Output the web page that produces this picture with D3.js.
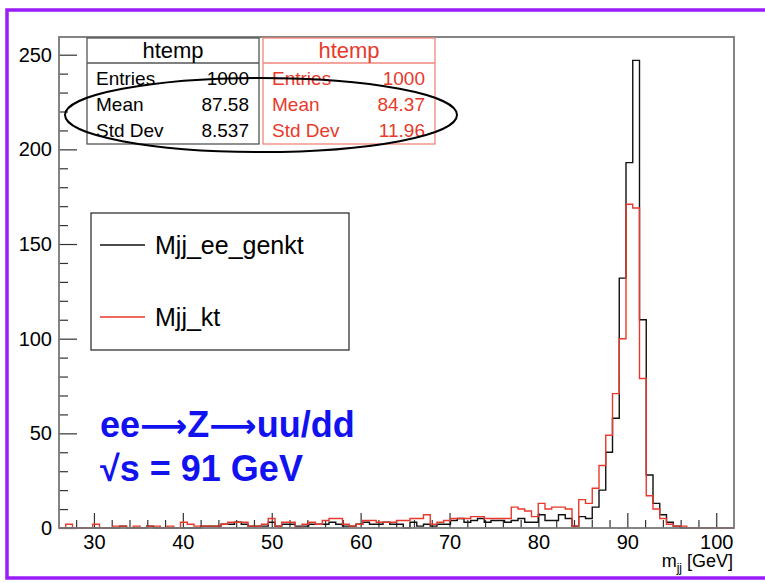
<!DOCTYPE html>
<html>
<head>
<meta charset="utf-8">
<script src="https://cdn.jsdelivr.net/npm/d3@7"></script>
<style>
  body { margin: 0; background: #fff; }
  text { font-family: "Liberation Sans", Arial, Helvetica, sans-serif; }
</style>
</head>
<body>
<div id="chart"></div>
<script>
// Histogram binning (100 bins)
const xMin = 26.07;
const xMax = 102.0;

// Bin contents, Mjj_ee_genkt (black)
const genktCounts = [
  0, 0, 0, 0, 0, 0, 0, 0, 0, 1,
  0, 0, 0, 1, 0, 0, 0, 0, 0, 0,
  0, 1, 1, 1, 2, 2, 3, 2, 1, 1,
  1, 3, 1, 2, 2, 1, 1, 2, 2, 2,
  3, 2, 1, 1, 2, 3, 2, 2, 3, 2,
  2, 0, 3, 1, 2, 1, 2, 2, 4, 5,
  3, 4, 5, 3, 4, 4, 3, 4, 5, 3,
  3, 7, 4, 4, 7, 5, 1, 6, 5, 11,
  20, 40, 58, 132, 193, 247, 110, 28, 13, 7,
  3, 1, 0, 0, 0, 0, 0, 0, 0, 0
];

// Bin contents, Mjj_kt (red)
const ktCounts = [
  0, 2, 0, 0, 0, 2, 0, 0, 1, 1,
  0, 1, 0, 1, 1, 0, 1, 0, 3, 2,
  1, 1, 1, 1, 2, 3, 3, 3, 1, 1,
  2, 5, 1, 3, 3, 0, 2, 3, 2, 4,
  5, 5, 2, 1, 2, 4, 4, 3, 3, 3,
  4, 4, 5, 5, 7, 2, 3, 4, 5, 5,
  5, 6, 6, 5, 5, 5, 5, 11, 10, 9,
  6, 13, 10, 11, 11, 10, 1, 15, 13, 21,
  33, 49, 71, 100, 171, 169, 79, 17, 10, 5,
  2, 1, 1, 0, 0, 0, 0, 0, 0, 0
];

const xMajorTicks = [30, 40, 50, 60, 70, 80, 90, 100];
const yMajorTicks = [0, 50, 100, 150, 200, 250];

const statLabels = ["Entries", "Mean", "Std Dev"];
const genktStats = ["1000", "87.58", "8.537"];
const ktStats = ["1000", "84.37", "11.96"];

const legendNames = ["Mjj_ee_genkt", "Mjj_kt"];

const black = "#111";
const red = "#e8392c";

const width = 765, height = 583;
const frame = { left: 59, right: 734, top: 37, bottom: 528 };

const svg = d3.select("#chart")
  .append("svg")
    .attr("width", width)
    .attr("height", height);

// Purple slide border
svg.append("rect")
  .attr("x", 7).attr("y", 10)
  .attr("width", 780).attr("height", 568)
  .attr("fill", "none")
  .attr("stroke", "#9a1cf8")
  .attr("stroke-width", 3.5);

const xScale = d3.scaleLinear()
  .domain([xMin, xMax])
  .range([frame.left, frame.right]);

const yMax = 1.05 * d3.max(genktCounts.concat(ktCounts));
const yScale = d3.scaleLinear()
  .domain([0, yMax])
  .range([frame.bottom, frame.top]);

const binWidth = (xMax - xMin) / genktCounts.length;

// Step outline like ROOT "hist" drawing
function stepPath(counts) {
  const p = d3.path();
  p.moveTo(xScale(xMin), yScale(0));
  counts.forEach((c, i) => {
    p.lineTo(xScale(xMin + i * binWidth), yScale(c));
    p.lineTo(xScale(xMin + (i + 1) * binWidth), yScale(c));
  });
  p.lineTo(xScale(xMax), yScale(0));
  return p.toString();
}

// Axes: ticks point inwards
const xMinor = d3.range(28, 102, 2).filter(v => v % 10 !== 0);
const yMinor = d3.range(0, 260, 10).filter(v => v % 50 !== 0);

svg.append("g")
  .attr("transform", `translate(0,${frame.bottom})`)
  .call(d3.axisBottom(xScale).tickValues(xMinor).tickSize(-8).tickFormat(""))
  .call(g => g.select(".domain").remove());

svg.append("g")
  .attr("class", "xaxis")
  .attr("transform", `translate(0,${frame.bottom})`)
  .call(d3.axisBottom(xScale).tickValues(xMajorTicks).tickSize(-15).tickPadding(7))
  .call(g => g.select(".domain").remove());

svg.append("g")
  .attr("transform", `translate(${frame.left},0)`)
  .call(d3.axisLeft(yScale).tickValues(yMinor).tickSize(-9).tickFormat(""))
  .call(g => g.select(".domain").remove());

svg.append("g")
  .attr("class", "yaxis")
  .attr("transform", `translate(${frame.left},0)`)
  .call(d3.axisLeft(yScale).tickValues(yMajorTicks).tickSize(-18).tickPadding(7))
  .call(g => g.select(".domain").remove());

svg.selectAll(".tick line").attr("stroke", "#333").attr("stroke-width", 1.2);
svg.selectAll(".xaxis text, .yaxis text")
  .style("font-size", "20px")
  .attr("fill", "#000");

// Histograms
svg.append("path")
  .attr("d", stepPath(genktCounts))
  .attr("fill", "none")
  .attr("stroke", black)
  .attr("stroke-width", 1.4);

svg.append("path")
  .attr("d", stepPath(ktCounts))
  .attr("fill", "none")
  .attr("stroke", red)
  .attr("stroke-width", 1.4);

// Frame
svg.append("rect")
  .attr("x", frame.left).attr("y", frame.top)
  .attr("width", frame.right - frame.left)
  .attr("height", frame.bottom - frame.top)
  .attr("fill", "none")
  .attr("stroke", "#777")
  .attr("stroke-width", 1.8);

// x axis title
const xTitle = svg.append("text")
  .attr("x", 733).attr("y", 567)
  .attr("text-anchor", "end")
  .style("font-size", "18px");
xTitle.append("tspan").text("m");
xTitle.append("tspan").attr("dy", 5).style("font-size", "12px").text("jj");
xTitle.append("tspan").attr("dy", -5).text(" [GeV]");

// Stats boxes
function statsBox(x, values, color, border) {
  const g = svg.append("g").attr("transform", `translate(${x},38)`);
  const w = 172, h = 106;
  g.append("rect")
    .attr("width", w).attr("height", h)
    .attr("fill", "#fff")
    .attr("stroke", border).attr("stroke-width", 1.3);
  g.append("line")
    .attr("x1", 0).attr("x2", w).attr("y1", 25).attr("y2", 25)
    .attr("stroke", border).attr("stroke-width", 1.3);
  g.append("text")
    .attr("x", w / 2).attr("y", 20)
    .attr("text-anchor", "middle")
    .attr("fill", color)
    .style("font-size", "22px")
    .text("htemp");
  statLabels.forEach((lab, i) => {
    g.append("text")
      .attr("x", 9).attr("y", 47 + i * 26)
      .attr("fill", color)
      .style("font-size", "19px")
      .text(lab);
    g.append("text")
      .attr("x", w - 10).attr("y", 47 + i * 26)
      .attr("text-anchor", "end")
      .attr("fill", color)
      .style("font-size", "19px")
      .text(values[i]);
  });
}
statsBox(87, genktStats, "#000", "#555");
statsBox(263, ktStats, red, "#f0867c");

// Ellipse annotation
svg.append("ellipse")
  .attr("cx", 261).attr("cy", 115)
  .attr("rx", 196).attr("ry", 37)
  .attr("fill", "none")
  .attr("stroke", "#000")
  .attr("stroke-width", 2);

// Legend
const legend = svg.append("g").attr("transform", "translate(91,213)");
legend.append("rect")
  .attr("width", 258).attr("height", 137)
  .attr("fill", "#fff")
  .attr("stroke", "#222").attr("stroke-width", 1.2);
legendNames.forEach((name, i) => {
  const yy = 32 + i * 72;
  legend.append("line")
    .attr("x1", 9).attr("x2", 54).attr("y1", yy).attr("y2", yy)
    .attr("stroke", i === 0 ? black : red).attr("stroke-width", 1.4);
  legend.append("text")
    .attr("x", 64).attr("y", yy + 9)
    .style("font-size", "25px")
    .attr("fill", "#000")
    .text(name);
});

// Process annotation (long arrows, as in the slide)
const blue = "#1212f0";
const arrow = "\u27F6";
const proc = svg.append("text")
  .attr("x", 100).attr("y", 437)
  .attr("fill", blue)
  .style("font-size", "36px").style("font-weight", "bold");
["ee", arrow, "Z", arrow, "uu/dd"].forEach(part => {
  proc.append("tspan")
    .style("font-family", part === arrow ? "'DejaVu Sans'" : null)
    .style("font-size", part === arrow ? "33px" : null)
    .text(part);
});
svg.append("text")
  .attr("x", 100).attr("y", 481)
  .attr("fill", blue)
  .style("font-size", "36px").style("font-weight", "bold")
  .text("\u221As = 91 GeV");
</script>
</body>
</html>
